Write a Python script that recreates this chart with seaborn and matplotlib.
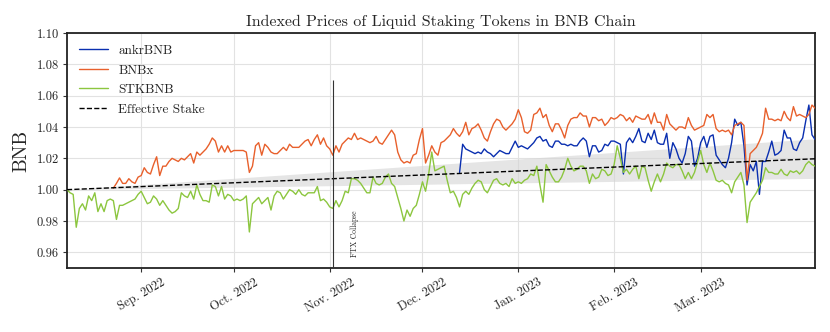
import numpy as np
import pandas as pd
import matplotlib
matplotlib.use("Agg")
import matplotlib.pyplot as plt
import matplotlib.dates as mdates
import seaborn as sns

# ---------------- data ----------------
green_start = "2022-08-08"
stkbnb = [
    1.000, 0.998, 0.997, 0.976, 0.988, 0.991, 0.987, 0.996, 0.993, 0.998,
    0.986, 0.991, 0.986, 0.993, 0.994, 0.993, 0.981, 0.990, 0.990, 0.991,
    0.992, 0.993, 0.994, 0.997, 0.999, 0.995, 0.991, 0.992, 0.996, 0.994,
    0.990, 0.993, 0.990, 0.987, 0.985, 0.986, 0.988, 0.998, 0.996, 0.995,
    0.999, 0.994, 1.003, 0.997, 0.993, 0.993, 0.992, 1.003, 1.002, 0.996,
    1.002, 0.994, 0.997, 0.996, 0.993, 0.994, 0.993, 0.994, 0.996, 0.973,
    0.991, 0.993, 0.995, 0.991, 0.993, 0.995, 0.987, 0.996, 0.999, 0.998,
    0.994, 0.997, 1.000, 0.999, 0.997, 1.000, 0.997, 0.996, 0.998, 0.998,
    0.998, 1.002, 0.993, 0.994, 0.992, 0.989, 0.988, 0.993, 0.989, 0.993,
    0.999, 0.998, 1.007, 1.007, 1.006, 1.004, 1.001, 0.998, 0.998, 1.008,
    1.004, 1.003, 1.004, 1.008, 1.010, 1.004, 1.002, 0.995, 0.988, 0.980,
    0.987, 0.983, 0.988, 0.990, 0.997, 1.005, 0.999, 1.010, 1.024, 1.012,
    1.013, 1.014, 1.015, 1.006, 0.998, 0.999, 0.995, 0.989, 0.997, 0.999,
    0.997, 1.001, 1.004, 1.006, 1.005, 1.000, 0.998, 1.002, 1.006, 1.007,
    1.004, 1.003, 1.004, 1.002, 1.007, 1.004, 1.005, 1.004, 1.006, 1.007,
    1.010, 1.009, 1.015, 1.003, 0.992, 1.016, 1.012, 1.008, 1.005, 1.005,
    1.008, 1.013, 1.020, 1.015, 1.012, 1.013, 1.015, 1.015, 1.012, 1.004,
    1.010, 1.007, 1.008, 1.013, 1.012, 1.009, 1.010, 1.016, 1.028, 1.020,
    1.011, 1.013, 1.010, 1.013, 1.015, 1.007, 1.015, 1.014, 1.006, 0.999,
    1.005, 1.010, 1.005, 1.010, 1.017, 1.015, 1.014, 1.016, 1.016, 1.012,
    1.007, 1.011, 1.007, 1.011, 1.018, 1.025, 1.016, 1.011, 1.017, 1.012,
    1.006, 1.005, 1.006, 1.004, 1.003, 0.998, 1.005, 1.008, 1.011, 1.003,
    0.979, 0.992, 0.995, 0.998, 1.002, 1.006, 1.014, 1.011, 1.011, 1.010,
    1.010, 1.013, 1.010, 1.009, 1.012, 1.011, 1.012, 1.010, 1.012, 1.016,
    1.018, 1.016, 1.015,
]

bnbx_start = "2022-08-23"
bnbx = [
    1.001, 1.004, 1.0075, 1.004, 1.004,
    1.007, 1.005, 1.004, 1.008, 1.009, 1.014, 1.011, 1.010, 1.016, 1.021,
    1.009, 1.015, 1.015, 1.018, 1.020, 1.019, 1.018, 1.020, 1.019, 1.021,
    1.023, 1.017, 1.024, 1.022, 1.024, 1.026, 1.029, 1.033, 1.031, 1.024,
    1.028, 1.024, 1.028, 1.024, 1.025, 1.025, 1.025, 1.025, 1.024, 1.011,
    1.015, 1.028, 1.030, 1.022, 1.029, 1.027, 1.024, 1.023, 1.023, 1.025,
    1.027, 1.025, 1.029, 1.027, 1.027, 1.027, 1.029, 1.031, 1.032, 1.028,
    1.032, 1.035, 1.029, 1.033, 1.028, 1.026, 1.022, 1.028, 1.024, 1.029,
    1.031, 1.033, 1.032, 1.036, 1.032, 1.033, 1.032, 1.031, 1.030, 1.031,
    1.034, 1.030, 1.029, 1.032, 1.035, 1.038, 1.035, 1.024, 1.019, 1.017,
    1.018, 1.017, 1.022, 1.023, 1.032, 1.039, 1.017, 1.022, 1.028, 1.024,
    1.022, 1.030, 1.031, 1.033, 1.035, 1.039, 1.036, 1.034, 1.037, 1.043,
    1.035, 1.039, 1.040, 1.042, 1.038, 1.033, 1.031, 1.037, 1.042, 1.045,
    1.044, 1.040, 1.038, 1.040, 1.042, 1.045, 1.051, 1.046, 1.037, 1.036,
    1.038, 1.048, 1.049, 1.052, 1.046, 1.048, 1.041, 1.037, 1.042, 1.042,
    1.038, 1.033, 1.041, 1.045, 1.046, 1.046, 1.049, 1.047, 1.047, 1.040,
    1.046, 1.046, 1.044, 1.045, 1.041, 1.043, 1.046, 1.045, 1.046, 1.048,
    1.047, 1.044, 1.046, 1.043, 1.047, 1.046, 1.045, 1.045, 1.048, 1.042,
    1.049, 1.043, 1.043, 1.038, 1.048, 1.042, 1.040, 1.038, 1.040, 1.040,
    1.039, 1.046, 1.041, 1.038, 1.039, 1.040, 1.041, 1.048, 1.046, 1.048,
    1.039, 1.037, 1.038, 1.037, 1.038, 1.035, 1.041, 1.042, 1.043, 1.041,
    1.006, 1.023, 1.025, 1.027, 1.031, 1.036, 1.052, 1.045, 1.045, 1.044,
    1.045, 1.044, 1.050, 1.046, 1.044, 1.053, 1.047, 1.048, 1.047, 1.046,
    1.048, 1.054, 1.052,
]

ankr_start = "2022-12-13"
ankrbnb = [
    1.011, 1.029, 1.026,
    1.025, 1.024, 1.023, 1.024, 1.023, 1.026, 1.024, 1.023, 1.021, 1.023,
    1.025, 1.024, 1.023, 1.023, 1.027, 1.031, 1.027, 1.028, 1.027, 1.026,
    1.028, 1.030, 1.033, 1.034, 1.031, 1.032, 1.028, 1.027, 1.031, 1.031,
    1.029, 1.029, 1.028, 1.029, 1.028, 1.028, 1.031, 1.033, 1.031, 1.021,
    1.028, 1.028, 1.024, 1.025, 1.029, 1.028, 1.031, 1.031, 1.030, 1.029,
    1.010, 1.030, 1.033, 1.030, 1.034, 1.039, 1.031, 1.030, 1.036, 1.032,
    1.038, 1.030, 1.029, 1.029, 1.036, 1.020, 1.030, 1.026, 1.020, 1.017,
    1.023, 1.034, 1.031, 1.015, 1.020, 1.030, 1.034, 1.027, 1.034, 1.035,
    1.022, 1.019, 1.016, 1.014, 1.020, 1.030, 1.045, 1.041, 1.043, 1.028,
    1.003, 1.016, 1.012, 1.018, 0.997, 1.018, 1.018, 1.024, 1.031, 1.022,
    1.023, 1.025, 1.038, 1.033, 1.033, 1.026, 1.025, 1.030, 1.033, 1.044,
    1.054, 1.035, 1.032,
]

stake_dates = ["2022-08-08", "2023-04-07"]
stake_values = [1.000, 1.0197]
band_low = [1.000, 1.0072]
band_high = [1.000, 1.0325]

event_date = "2022-11-02"
event_label = "FTX Collapse"
event_top = 1.07

tick_dates = ["2022-09-01", "2022-10-01", "2022-11-01", "2022-12-01",
              "2023-01-01", "2023-02-01", "2023-03-01"]
tick_labels = ["Sep. 2022", "Oct. 2022", "Nov. 2022", "Dec. 2022",
               "Jan. 2023", "Feb. 2023", "Mar. 2023"]

series_names = ["ankrBNB", "BNBx", "STKBNB"]
series_colors = ["#0a2fb0", "#e8602c", "#8cc63f"]

# ---------------- frames ----------------
def make_frame(start, vals, name):
    return pd.DataFrame({"date": pd.date_range(start, periods=len(vals), freq="D"),
                         "value": vals, "token": name})

frames = [make_frame(ankr_start, ankrbnb, "ankrBNB"),
          make_frame(bnbx_start, bnbx, "BNBx"),
          make_frame(green_start, stkbnb, "STKBNB")]
stake_df = pd.DataFrame({"date": pd.to_datetime(stake_dates), "value": stake_values})

# ---------------- style ----------------
sns.set_theme(style="whitegrid")
plt.rcParams["font.family"] = ["cmr10", "DejaVu Serif"]
plt.rcParams["mathtext.fontset"] = "cm"
plt.rcParams["axes.formatter.use_mathtext"] = True
plt.rcParams["axes.unicode_minus"] = False

fig = plt.figure(figsize=(8.3, 3.32), dpi=100)
ax = fig.add_axes([0.0807, 0.1928, 0.9013, 0.7078])

ax.fill_between(stake_df["date"], band_low, band_high, color="#d4d4d4",
                alpha=0.6, lw=0, zorder=1)

for df, name, col in zip(frames, series_names, series_colors):
    sns.lineplot(data=df, x="date", y="value", color=col, lw=1.0, label=name,
                 ax=ax, zorder=3)

sns.lineplot(data=stake_df, x="date", y="value", color="black", lw=1.0,
             linestyle="--", label="Effective Stake", ax=ax, zorder=4)

ev = pd.Timestamp(event_date)
ax.vlines(ev, 0.95, event_top, color="#333333", lw=0.8, zorder=5)
ax.text(ev + pd.Timedelta(days=7), 0.957, event_label, rotation=90,
        fontsize=5.5, ha="center", va="bottom", color="#222222")

ax.set_xlim(pd.Timestamp(stake_dates[0]), pd.Timestamp(stake_dates[1]))
ax.set_ylim(0.95, 1.10)
ax.set_yticks(np.arange(0.96, 1.101, 0.02))
ax.yaxis.set_major_formatter(matplotlib.ticker.FormatStrFormatter("%.2f"))
ax.set_xticks(pd.to_datetime(tick_dates))
ax.set_xticklabels(tick_labels, rotation=30, ha="center")
ax.tick_params(axis="both", labelsize=9, length=3, width=0.8, color="#333333",
               bottom=True, left=True, pad=3)

ax.grid(True, color="#e2e2e2", lw=0.8)
for s in ax.spines.values():
    s.set_color("#222222")
    s.set_linewidth(1.3)

ax.set_xlabel("")
ax.set_ylabel("BNB", fontsize=14)
ax.set_title("Indexed Prices of Liquid Staking Tokens in BNB Chain", fontsize=11.5, pad=5)

ax.legend(loc="upper left", frameon=False, fontsize=9.5, handlelength=2.2,
          labelspacing=0.55, borderaxespad=0.5)

fig.savefig("out.png", dpi=100)
